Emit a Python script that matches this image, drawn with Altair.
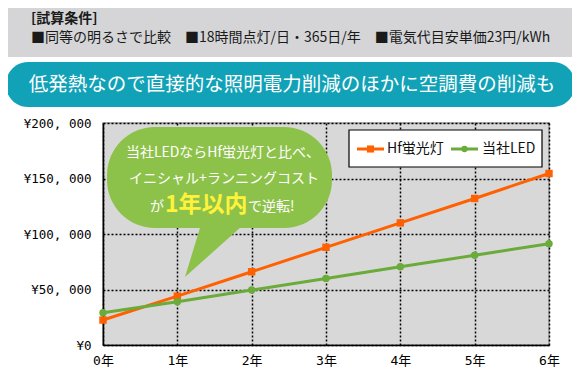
import altair as alt
import pandas as pd

# ---- data ----
years = [0, 1, 2, 3, 4, 5, 6]
hf_cost = [22500, 44000, 66000, 88000, 110000, 132000, 154500]
led_cost = [29000, 39000, 49500, 60000, 70500, 80800, 91300]
series_names = ["Hf蛍光灯", "当社LED"]
series_colors = ["#ff6000", "#6aab3a"]
series_shapes = ["square", "circle"]
y_ticks = [0, 50000, 100000, 150000, 200000]

header_title = "[試算条件]"
header_conditions = "■同等の明るさで比較　■18時間点灯/日・365日/年　■電気代目安単価23円/kWh"
banner_text = "低発熱なので直接的な照明電力削減のほかに空調費の削減も"
bubble_lines = ["当社LEDならHf蛍光灯と比べ、", "イニシャル+ランニングコスト"]
bubble_parts = ["が", "1年以内", "で逆転!"]

rows = []
for name, vals in zip(series_names, [hf_cost, led_cost]):
    for yr, v in zip(years, vals):
        rows.append({"year": yr, "cost": v, "series": name})
df = pd.DataFrame(rows)

JP = "Noto Sans CJK JP"
one = alt.Data(values=[{"k": 1}])

color_scale = alt.Scale(domain=series_names, range=series_colors)
shape_scale = alt.Scale(domain=series_names, range=series_shapes)

x_enc = alt.X(
    "year:Q",
    scale=alt.Scale(domain=[0, 6], nice=False, zero=False),
    axis=alt.Axis(
        values=years, labelExpr="datum.value + '年'", title=None,
        grid=True, gridColor="#000", gridDash=[2, 2], gridWidth=1.5,
        domainColor="#000", domainWidth=1.5, ticks=False,
        labelPadding=9, labelFont="DejaVu Sans Mono, " + JP, labelFontSize=13,
        labelColor="#000", labelFlush=False, labelOverlap=False,
    ),
)
y_enc = alt.Y(
    "cost:Q",
    scale=alt.Scale(domain=[0, 200000], nice=False),
    axis=alt.Axis(
        values=y_ticks,
        labelExpr="'¥' + replace(format(datum.value, ','), ',', ', ')",
        title=None, grid=True, gridColor="#000", gridDash=[2, 2], gridWidth=1.5,
        domainColor="#000", domainWidth=1.5, ticks=False,
        labelPadding=12, labelFont="DejaVu Sans Mono", labelFontSize=12.5,
        labelColor="#000", labelFlush=False, labelOverlap=False,
    ),
)

lines = alt.Chart(df).mark_line(strokeWidth=3).encode(
    x=x_enc, y=y_enc,
    color=alt.Color("series:N", scale=color_scale, legend=None),
)
points = alt.Chart(df).mark_point(filled=True, opacity=1, size=55).encode(
    x="year:Q", y="cost:Q",
    color=alt.Color("series:N", scale=color_scale, legend=None),
    shape=alt.Shape("series:N", scale=shape_scale, legend=None),
)

# ---- decorations (view-relative pixel positions) ----
header_band = alt.Chart(one).mark_rect(color="#d5d5d7").encode(
    x=alt.value(-95), x2=alt.value(469), y=alt.value(-115), y2=alt.value(-66))
header_t1 = alt.Chart(one).mark_text(align="left", baseline="middle", font=JP,
                                     fontSize=14, fontWeight="bold", color="#1a1a1a").encode(
    x=alt.value(-72), y=alt.value(-104), text=alt.value(header_title))
header_t2 = alt.Chart(one).mark_text(align="left", baseline="middle", font=JP,
                                     fontSize=14, color="#1a1a1a").encode(
    x=alt.value(-72), y=alt.value(-85), text=alt.value(header_conditions))

pill = alt.Chart(one).mark_rect(color="#12a2b8", cornerRadius=22).encode(
    x=alt.value(-97), x2=alt.value(472), y=alt.value(-61), y2=alt.value(-16))
pill_text = alt.Chart(one).mark_text(align="center", baseline="middle", font=JP,
                                     fontSize=19.5, color="white").encode(
    x=alt.value(189), y=alt.value(-38), text=alt.value(banner_text))

bubble_color = "#8dc24a"
bubble = alt.Chart(one).mark_rect(color=bubble_color, cornerRadius=48).encode(
    x=alt.value(4), x2=alt.value(229), y=alt.value(4), y2=alt.value(105))
tail = alt.Chart(one).mark_point(
    shape="M100,95 L148,95 L82,154 Z", size=4, filled=True, opacity=1,
    color=bubble_color, strokeWidth=0).encode(x=alt.value(0), y=alt.value(0))
b1 = alt.Chart(one).mark_text(align="center", baseline="middle", font=JP,
                              fontSize=14, color="white").encode(
    x=alt.value(120), y=alt.value(30), text=alt.value(bubble_lines[0]))
b2 = alt.Chart(one).mark_text(align="center", baseline="middle", font=JP,
                              fontSize=14, color="white").encode(
    x=alt.value(121), y=alt.value(56), text=alt.value(bubble_lines[1]))
b3a = alt.Chart(one).mark_text(align="left", baseline="middle", font=JP,
                               fontSize=14, color="white").encode(
    x=alt.value(47), y=alt.value(84), text=alt.value(bubble_parts[0]))
b3b = alt.Chart(one).mark_text(align="left", baseline="middle", font=JP,
                               fontSize=23, fontWeight="bold", color="#fff23a").encode(
    x=alt.value(62), y=alt.value(82), text=alt.value(bubble_parts[1]))
b3c = alt.Chart(one).mark_text(align="left", baseline="middle", font=JP,
                               fontSize=14, color="white").encode(
    x=alt.value(145), y=alt.value(84), text=alt.value(bubble_parts[2]))

leg_box = alt.Chart(one).mark_rect(fill="white", stroke="black", strokeWidth=1.2).encode(
    x=alt.value(246), x2=alt.value(439), y=alt.value(7), y2=alt.value(44))
leg_l1 = alt.Chart(one).mark_rule(strokeWidth=3, color=series_colors[0]).encode(
    x=alt.value(254), x2=alt.value(281), y=alt.value(26))
leg_p1 = alt.Chart(one).mark_point(shape="square", filled=True, opacity=1, size=50,
                                   color=series_colors[0]).encode(
    x=alt.value(267.5), y=alt.value(26))
leg_t1 = alt.Chart(one).mark_text(align="left", baseline="middle", font=JP,
                                  fontSize=14, color="#111").encode(
    x=alt.value(284), y=alt.value(26), text=alt.value(series_names[0]))
leg_l2 = alt.Chart(one).mark_rule(strokeWidth=3, color=series_colors[1]).encode(
    x=alt.value(348), x2=alt.value(375), y=alt.value(26))
leg_p2 = alt.Chart(one).mark_point(shape="circle", filled=True, opacity=1, size=40,
                                   color=series_colors[1]).encode(
    x=alt.value(361.5), y=alt.value(26))
leg_t2 = alt.Chart(one).mark_text(align="left", baseline="middle", font=JP,
                                  fontSize=14, color="#111").encode(
    x=alt.value(379), y=alt.value(26), text=alt.value(series_names[1]))

chart = alt.layer(
    lines, points,
    header_band, header_t1, header_t2, pill, pill_text,
    bubble, tail, b1, b2, b3a, b3b, b3c,
    leg_box, leg_l1, leg_p1, leg_t1, leg_l2, leg_p2, leg_t2,
).properties(
    width=446, height=222,
    autosize=alt.AutoSizeParams(type="none"),
    padding={"left": 95, "top": 115, "right": 23, "bottom": 23},
    background="white",
).configure_view(fill="#d8d8d8", stroke="#9a9a9a", strokeWidth=1.5)

chart.save("out.html", embed_options={"renderer": "svg", "actions": False})
